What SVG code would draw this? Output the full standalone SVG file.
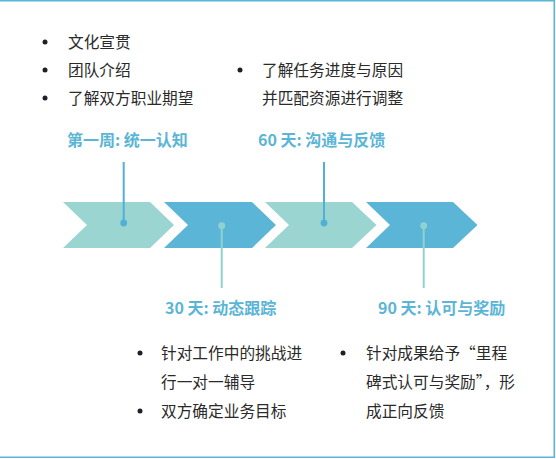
<svg xmlns="http://www.w3.org/2000/svg" width="556" height="459" viewBox="0 0 556 459">
<style>
  .t { font-family: "Noto Sans CJK SC", "Noto Sans", sans-serif; font-size: 15.7px; fill: #2a2a2a; }
  .lb { font-family: "Noto Sans CJK SC", "Noto Sans", sans-serif; font-size: 16px; font-weight: 700; fill: #5BB5D6; }
  .b { fill: #1f1f2a; }
  .c1 { fill: #9BD5D1; }
  .c2 { fill: #5BB5D6; }
  .l1 { stroke: #4FB1D6; stroke-width: 2; fill: none; }
  .l2 { stroke: #8FD3CF; stroke-width: 2; fill: none; }
</style>
<rect width="556" height="459" fill="#ffffff"/>
<g id="frame" fill="none" stroke="#5BB5D6" stroke-width="1.6">
  <path d="M0 0.8 H554.3 V457.3 H0"/>
</g>
<g id="chevrons">
  <polygon class="c1" points="63,202 150,202 174,225 150,248 63,248 87,225"/>
  <polygon class="c2" points="164,202 252,202 276,225 252,248 164,248 188,225"/>
  <polygon class="c1" points="265,202 352,202 376.5,225 352,248 265,248 289,225"/>
  <polygon class="c2" points="366,202 453,202 477.5,225 453,248 366,248 390,225"/>
</g>
<g id="connectors">
  <line class="l1" x1="123.7" y1="162" x2="123.7" y2="223"/>
  <circle cx="123.7" cy="223" r="3.4" fill="#4FB1D6"/>
  <line class="l2" x1="221.7" y1="225.7" x2="221.7" y2="288"/>
  <circle cx="221.7" cy="225.7" r="3.4" fill="#8FD3CF"/>
  <line class="l1" x1="324" y1="162" x2="324" y2="223"/>
  <circle cx="324" cy="223" r="3.4" fill="#4FB1D6"/>
  <line class="l2" x1="423.7" y1="225.7" x2="423.7" y2="288"/>
  <circle cx="423.7" cy="225.7" r="3.4" fill="#8FD3CF"/>
</g>
<g id="node-week1">
  <text class="lb" x="67" y="146">第一周: 统一认知</text>
  <circle class="b" cx="45" cy="42" r="2.5"/>
  <text class="t" x="68" y="47.5">文化宣贯</text>
  <circle class="b" cx="45" cy="70" r="2.5"/>
  <text class="t" x="68" y="76">团队介绍</text>
  <circle class="b" cx="45" cy="98" r="2.5"/>
  <text class="t" x="68" y="104">了解双方职业期望</text>
</g>
<g id="node-day60">
  <text class="lb" x="258" y="146">60 天: 沟通与反馈</text>
  <circle class="b" cx="240" cy="70" r="2.5"/>
  <text class="t" x="262" y="76">了解任务进度与原因</text>
  <text class="t" x="262" y="104">并匹配资源进行调整</text>
</g>
<g id="node-day30">
  <text class="lb" x="165" y="314">30 天: 动态跟踪</text>
  <circle class="b" cx="140" cy="353" r="2.5"/>
  <text class="t" x="161" y="359">针对工作中的挑战进</text>
  <text class="t" x="161" y="388">行一对一辅导</text>
  <circle class="b" cx="140" cy="411" r="2.5"/>
  <text class="t" x="161" y="417">双方确定业务目标</text>
</g>
<g id="node-day90">
  <text class="lb" x="378" y="314">90 天: 认可与奖励</text>
  <circle class="b" cx="343" cy="353" r="2.5"/>
  <text class="t" x="366" y="359">针对成果给予“里程</text>
  <text class="t" x="366" y="388">碑式认可与奖励”，形</text>
  <text class="t" x="366" y="417">成正向反馈</text>
</g>
</svg>
